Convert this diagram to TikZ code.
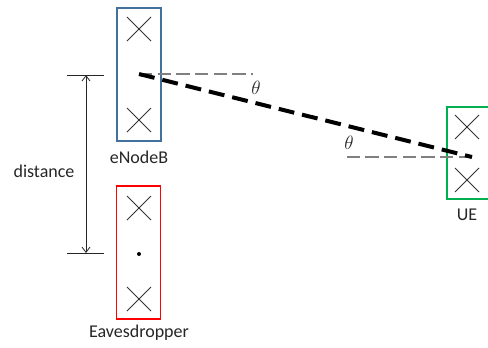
\documentclass[tikz,border=0pt]{standalone}
\usepackage{fontspec}
\setmainfont{Carlito}
\usetikzlibrary{positioning,arrows.meta}

\definecolor{enbblue}{HTML}{41719C}
\definecolor{uegreen}{HTML}{00B050}
\definecolor{linkgray}{HTML}{808080}
\definecolor{txtgray}{HTML}{262626}

% one antenna element: a cross of side 24 around (x,y)
\def\antx(#1,#2){\draw[xline] (#1-12,#2-12) -- (#1+12,#2+12) (#1-12,#2+12) -- (#1+12,#2-12);}

\tikzset{
  antbox/.style={draw, line width=1.2pt, inner sep=0pt, minimum width=33pt, minimum height=99.75pt},
  xline/.style={line width=0.6pt, color=black!80},
  lbl/.style={font=\fontsize{13.5}{16}\selectfont, text=txtgray},
  refline/.style={linkgray, line width=2.2pt, dash pattern=on 10pt off 4pt},
  losline/.style={black, line width=3pt, dash pattern=on 12pt off 6pt},
}

\begin{document}
\begin{tikzpicture}[x=0.75pt, y=-0.75pt]
	\clip (0,0) rectangle (488,347);
	
	%%%%% antenna arrays %%%%%
	\node[antbox, draw=enbblue] (enb) at (139,74.5) {};
	\node[antbox, draw=red] (eve) at (138.5,252.5) {};
	\node[antbox, draw=uegreen, minimum height=69pt] (ue) at (469,153) {};
	
	\antx(139,29) \antx(139,120)
	\antx(139,208) \antx(139,299)
	\antx(467,127) \antx(467,180)
	\fill[black] (139,254) circle (1.5pt);
	
	\coordinate (enbc) at (139,74);
	\coordinate (uec) at (472,157);
	
	%%%%% labels %%%%%
	\node[lbl] (enblbl) at (139,157) {eNodeB};
	\node[lbl] (evelbl) at (139,333) {Eavesdropper};
	\node[lbl] (uelbl) at (467,215) {UE};
	
	%%%%% link and angles %%%%%
	\draw[refline] (enbc) -- +(114,0) coordinate (enbref);
	\draw[refline] (uec) -- +(-125,0) coordinate (ueref);
	\draw[losline] (enbc) -- (uec);
	\node[lbl] (th1) at (256,88) {$\theta$};
	\node[lbl] (th2) at (349,143) {$\theta$};
	
	%%%%% distance %%%%%
	\coordinate (dtop) at (86,75);
	\coordinate (dbot) at (86,253);
	\draw[line width=0.7pt, black!85] (67,75) -- (104,75);
	\draw[line width=0.7pt, black!85] (67,253) -- (104,253);
	\draw[line width=0.6pt, black!85, {Straight Barb[length=4pt,width=6pt]}-{Straight Barb[length=4pt,width=6pt]}] (dtop) -- (dbot);
	\node[lbl] (dist) at (44,171) {distance};
\end{tikzpicture}
\end{document}
